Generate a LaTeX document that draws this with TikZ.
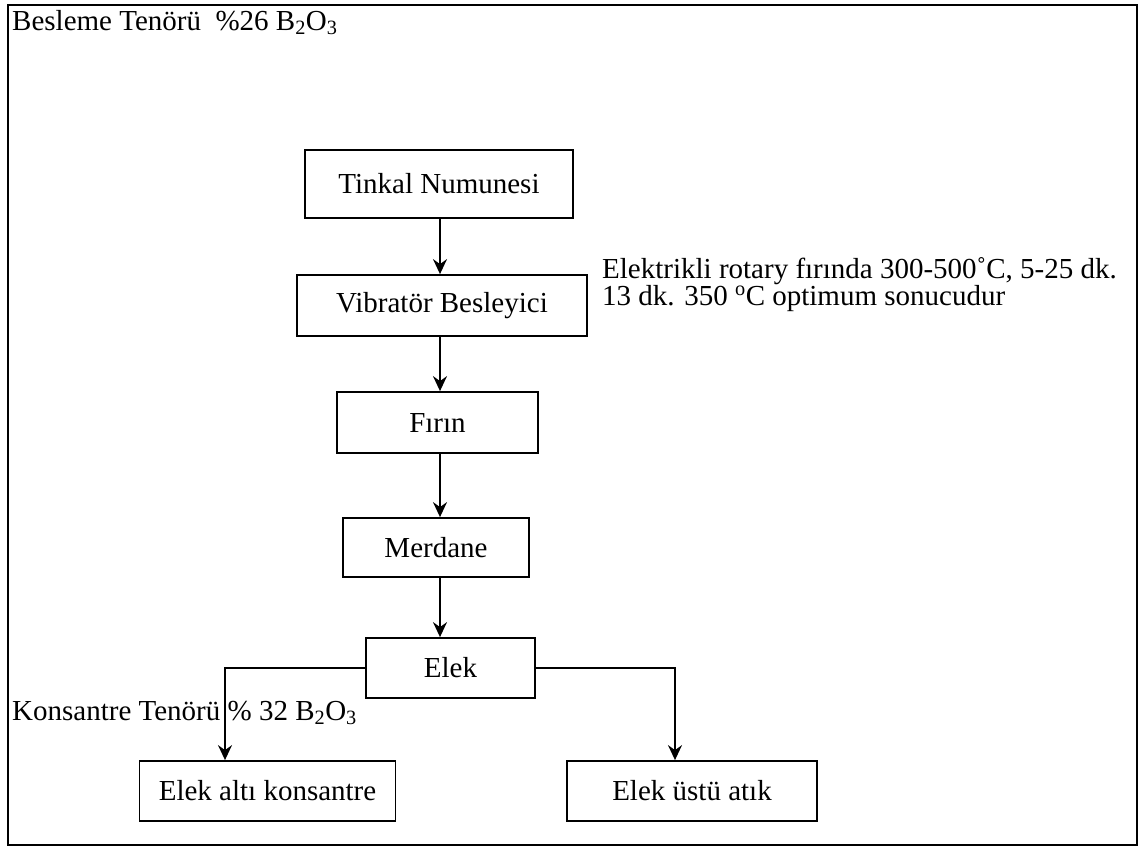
\documentclass[tikz,border=0pt]{standalone}
\usepackage{fontspec}
\setmainfont{Liberation Serif}
\usetikzlibrary{arrows.meta}
\begin{document}
\begin{tikzpicture}[x=1pt,y=-1pt,
  every node/.style={font=\fontsize{29}{27}\selectfont},
  stepbox/.style={draw, line width=1.8pt, inner sep=0pt, align=center},
  note/.style={inner sep=0pt, anchor=base west},
  flowarrow/.style={line width=1.8pt, -{Stealth[length=15pt,width=14pt,inset=5pt]}}
]
\useasboundingbox (0,0) rectangle (1141,847);
% outer frame
\draw[line width=1.8pt] (8,5) rectangle (1137,845);

% process boxes
\node[stepbox, minimum width=268pt, minimum height=68pt] (tinkal)  at (439,184)   {Tinkal Numunesi};
\node[stepbox, minimum width=290pt, minimum height=61pt] (vib)     at (442,305.5) {Vibratör Besleyici};
\node[stepbox, minimum width=201pt, minimum height=61pt] (firin)   at (437.5,422.5) {Fırın};
\node[stepbox, minimum width=186pt, minimum height=59pt] (merdane) at (436,547.5) {Merdane};
\node[stepbox, minimum width=169pt, minimum height=60pt] (elek)    at (450.5,668) {Elek};
\node[stepbox, minimum width=256pt, minimum height=60pt] (altk)    at (267.5,791) {Elek altı konsantre};
\node[stepbox, minimum width=250pt, minimum height=60pt] (ustu)    at (692,791)   {Elek üstü atık};

% annotations
\node[note] (feed) at (12,30) {Besleme Tenörü\ \ \%26 B\textsubscript{2}O\textsubscript{3}};
\node[note] (ann1) at (602,278) {Elektrikli rotary fırında 300-500\char"02DA C, 5-25 dk.};
\node[note] (ann2) at (602,305) {13 dk. 350 \textsuperscript{o}C optimum sonucudur};
\node[note] (conc) at (12,720) {Konsantre Tenörü \% 32 B\textsubscript{2}O\textsubscript{3}};

% connectors
\coordinate (spine) at (440,0);
\coordinate (lefttap) at (225,0);
\coordinate (righttap) at (675,0);
\draw[flowarrow] (tinkal.south -| spine) -- (vib.north -| spine);
\draw[flowarrow] (vib.south -| spine) -- (firin.north -| spine);
\draw[flowarrow] (firin.south -| spine) -- (merdane.north -| spine);
\draw[flowarrow] (merdane.south -| spine) -- (elek.north -| spine);
\draw[flowarrow] (elek.west) -| (altk.north -| lefttap);
\draw[flowarrow] (elek.east) -| (ustu.north -| righttap);
\end{tikzpicture}
\end{document}
